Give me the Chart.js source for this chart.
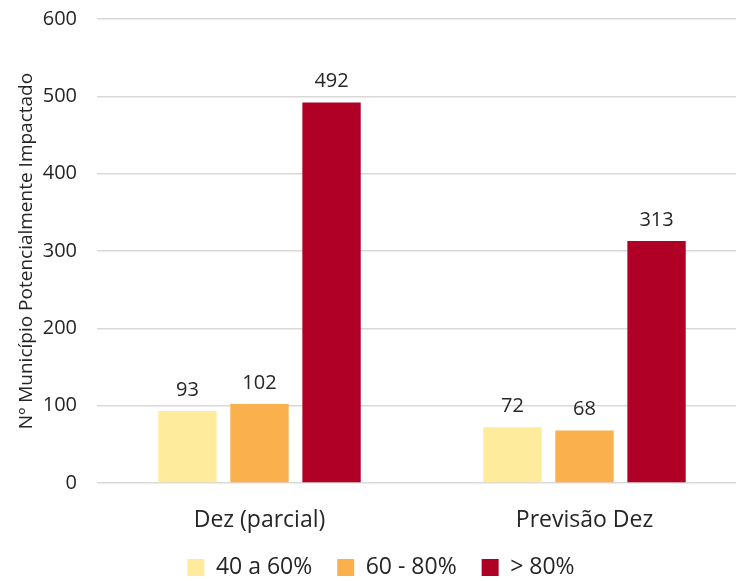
<!DOCTYPE html>
<html>
<head>
<meta charset="utf-8">
<script src="https://cdn.jsdelivr.net/npm/chart.js@4/dist/chart.umd.min.js"></script>
<style>
  html, body { margin: 0; padding: 0; background: #fff; overflow: hidden; }
  #wrap { width: 736px; height: 581px; overflow: hidden; }
</style>
</head>
<body>
<div id="wrap"><canvas id="chart" width="762" height="589"></canvas></div>
<script>
const categories = ['Dez (parcial)', 'Previsão Dez'];
const seriesNames = ['40 a 60%', '60 - 80%', '> 80%'];
const low = [93, 72];
const mid = [102, 68];
const high = [492, 313];
const colors = ['#FFEB9C', '#FBB04E', '#B00026'];

const yTitle = 'Nº Município Potencialmente Impactado';
const FONT = "'Open Sans', 'Noto Sans', sans-serif";
const TEXT = '#262626';

// writes each bar's value just above it
const valueLabels = {
  id: 'valueLabels',
  afterDatasetsDraw(chart) {
    const ctx = chart.ctx;
    ctx.save();
    ctx.font = '20px ' + FONT;
    ctx.fillStyle = TEXT;
    ctx.textAlign = 'center';
    ctx.textBaseline = 'middle';
    chart.data.datasets.forEach((ds, i) => {
      chart.getDatasetMeta(i).data.forEach((bar, j) => {
        ctx.fillText(ds.data[j], bar.x, bar.y - 21);
      });
    });
    ctx.restore();
  }
};

new Chart(document.getElementById('chart'), {
  type: 'bar',
  data: {
    labels: categories,
    datasets: [
      { label: seriesNames[0], data: low, backgroundColor: colors[0] },
      { label: seriesNames[1], data: mid, backgroundColor: colors[1] },
      { label: seriesNames[2], data: high, backgroundColor: colors[2] }
    ]
  },
  options: {
    responsive: false,
    animation: false,
    categoryPercentage: 0.665,
    barPercentage: 0.81,
    layout: { padding: { top: 19, right: 0, left: 0, bottom: 0 } },
    plugins: {
      tooltip: { enabled: false },
      legend: {
        position: 'bottom',
        labels: {
          boxWidth: 17,
          boxHeight: 17,
          padding: 13,
          color: TEXT,
          font: { family: FONT, size: 23 },
          // a little extra room after the first two entries
          generateLabels(chart) {
            const items = Chart.defaults.plugins.legend.labels.generateLabels(chart);
            items.forEach((it, i) => { if (i < items.length - 1) it.text += '  '; });
            return items;
          }
        }
      }
    },
    scales: {
      x: {
        afterFit(scale) { scale.height = 60; },
        grid: { display: false },
        border: { display: false },
        ticks: { color: TEXT, padding: 16, font: { family: FONT, size: 23 } }
      },
      y: {
        min: 0,
        max: 600,
        afterFit(scale) {
          scale.width = 97;
          // tick padding is horizontal only here
          scale.paddingTop = 0;
          scale.paddingBottom = 0;
        },
        ticks: { stepSize: 100, color: TEXT, padding: 20, font: { family: FONT, size: 20 } },
        grid: { color: '#D9D9D9', lineWidth: 1.5, drawTicks: false },
        border: { display: false },
        title: {
          display: true,
          text: yTitle,
          color: TEXT,
          padding: { top: 15, bottom: 0 },
          font: { family: FONT, size: 19 }
        }
      },
      // blank strip on the right so the plot stops short of the edge
      gap: {
        position: 'right',
        afterFit(scale) { scale.width = 15; },
        grid: { display: false },
        border: { display: false },
        ticks: { display: false }
      }
    }
  },
  plugins: [valueLabels]
});
</script>
</body>
</html>
